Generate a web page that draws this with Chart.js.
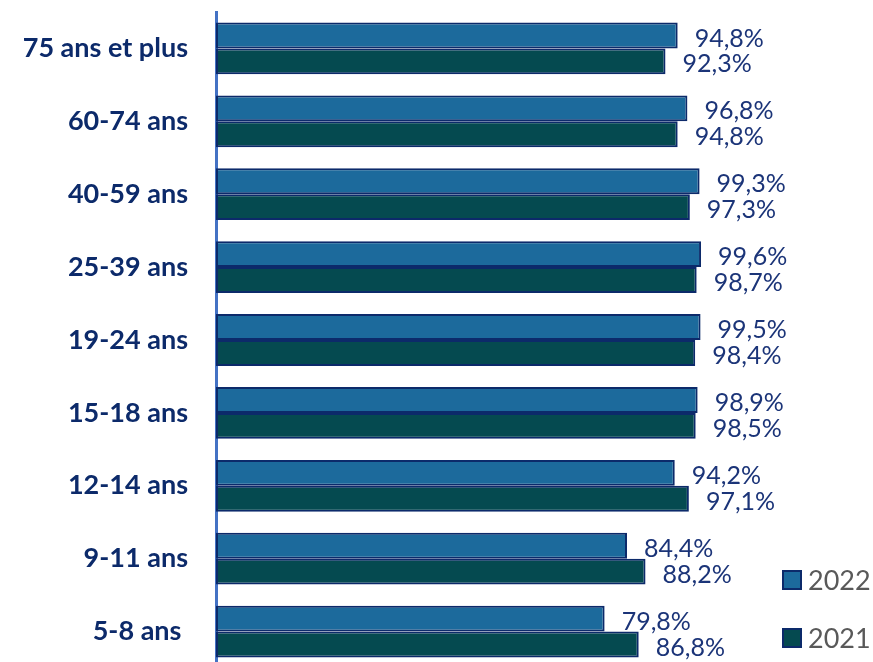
<!DOCTYPE html>
<html>
<head>
<meta charset="utf-8">
<script src="https://cdn.jsdelivr.net/npm/chart.js@4"></script>
<style>
  html, body { margin: 0; padding: 0; background: #fff; overflow: hidden; }
  .wrap { width: 873px; height: 670px; position: relative; }
</style>
</head>
<body>
<div class="wrap"><canvas id="graf"></canvas></div>
<script>
const ages = ['75 ans et plus', '60-74 ans', '40-59 ans', '25-39 ans', '19-24 ans', '15-18 ans', '12-14 ans', '9-11 ans', '5-8 ans '];
const vals2022 = [94.8, 96.8, 99.3, 99.6, 99.5, 98.9, 94.2, 84.4, 79.8];
const vals2021 = [92.3, 94.8, 97.3, 98.7, 98.4, 98.5, 97.1, 88.2, 86.8];

const navy = '#0C2A6A';

// etiquettes de valeur a droite des barres
const valeurs = {
    id: 'valeurs',
    afterDatasetsDraw(chart) {
        const ctx = chart.ctx;
        ctx.save();
        ctx.font = '25px Lato';
        ctx.fillStyle = '#1B3478';
        ctx.textAlign = 'left';
        ctx.textBaseline = 'middle';
        chart.data.datasets.forEach((ds, i) => {
            chart.getDatasetMeta(i).data.forEach((bar, j) => {
                const txt = ds.data[j].toFixed(1).replace('.', ',') + '%';
                ctx.fillText(txt, bar.x + 17, bar.y + 3);
            });
        });
        ctx.restore();
    }
};

// legende en bas a droite
const legende = {
    id: 'legende',
    afterDraw(chart) {
        const ctx = chart.ctx;
        ctx.save();
        ctx.font = '27px Lato';
        ctx.textBaseline = 'middle';
        ctx.textAlign = 'left';
        const ys = [580, 638];
        chart.data.datasets.forEach((ds, i) => {
            ctx.fillStyle = ds.backgroundColor;
            ctx.fillRect(783, ys[i] - 9, 18, 18);
            ctx.strokeStyle = navy;
            ctx.lineWidth = 2;
            ctx.strokeRect(783, ys[i] - 9, 18, 18);
            ctx.fillStyle = '#595959';
            ctx.fillText(ds.label, 808, ys[i] + 1);
        });
        ctx.restore();
    }
};

const data = {
    labels: ages,
    datasets: [{
        label: '2022',
        data: vals2022,
        backgroundColor: '#1C6A9C',
        borderColor: navy,
        borderWidth: 2,
        borderSkipped: false
    },
    {
        label: '2021',
        data: vals2021,
        backgroundColor: '#054A50',
        borderColor: navy,
        borderWidth: 2,
        borderSkipped: false
    }]
};

const config = {
    type: 'bar',
    data: data,
    options: {
        indexAxis: 'y',
        responsive: true,
        maintainAspectRatio: false,
        animation: false,
        categoryPercentage: 0.71,
        barPercentage: 1.0,
        layout: { padding: { top: 12, bottom: 2, right: 170, left: 0 } },
        plugins: {
            legend: { display: false },
            tooltip: { enabled: false }
        },
        scales: {
            x: {
                display: false,
                min: 0,
                max: 100
            },
            y: {
                afterFit(scale) {
                    scale.width = 216;
                    scale.paddingTop = 0;
                    scale.paddingBottom = 0;
                },
                grid: { display: false, drawTicks: false },
                border: { display: true, color: '#4472C4', width: 3 },
                ticks: {
                    color: navy,
                    padding: 28,
                    font: { family: 'Lato', size: 27, weight: 'bold' }
                }
            }
        }
    },
    plugins: [valeurs, legende]
};

const grafMain = new Chart(document.getElementById('graf').getContext('2d'), config);
</script>
</body>
</html>
